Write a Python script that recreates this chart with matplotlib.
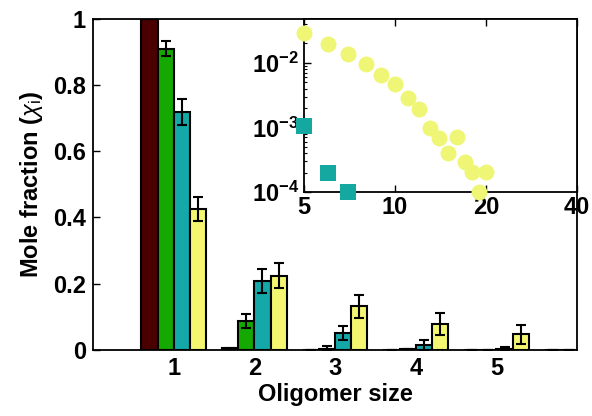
import numpy as np
import matplotlib
matplotlib.use("Agg")
import matplotlib.pyplot as plt

plt.rcParams['font.family'] = ['Liberation Sans', 'DejaVu Sans']
plt.rcParams['mathtext.fontset'] = 'custom'
plt.rcParams['mathtext.rm'] = 'Liberation Sans'
plt.rcParams['mathtext.it'] = 'Liberation Sans:italic'
plt.rcParams['mathtext.bf'] = 'Liberation Sans:bold'

# main panel data: mole fraction per oligomer size, four systems
sizes = [1, 2, 3, 4, 5, 6]
dark_vals = [1.0, 0.005, 0.0, 0.0, 0.0, 0.0]
green_vals = [0.909, 0.088, 0.004, 0.002, 0.0, 0.0]
teal_vals = [0.719, 0.208, 0.052, 0.014, 0.003, 0.0]
yellow_vals = [0.426, 0.224, 0.131, 0.079, 0.047, 0.0]
dark_err = [0.0, 0.002, 0.0, 0.0, 0.0, 0.0]
green_err = [0.023, 0.021, 0.008, 0.0, 0.0, 0.0]
teal_err = [0.040, 0.036, 0.021, 0.015, 0.006, 0.0]
yellow_err = [0.036, 0.037, 0.035, 0.033, 0.029, 0.0]

# inset data (log-log)
inset_yellow_x = [5, 6, 7, 8, 9, 10, 11, 12, 13, 14, 15, 16, 17, 18, 19, 20]
inset_yellow_y = [0.0295, 0.0197, 0.0138, 0.0096, 0.0065, 0.0047, 0.00284, 0.00194,
                  0.00099, 0.000695, 0.000398, 0.00072, 0.000295, 0.000202, 0.0001, 0.000202]
inset_teal_x = [5, 6, 7]
inset_teal_y = [0.00105, 0.0002, 0.0001]

colors = ['#4a0000', '#14a800', '#14a8a8', '#f4f672']
series = [(dark_vals, dark_err), (green_vals, green_err),
          (teal_vals, teal_err), (yellow_vals, yellow_err)]
offsets = [-0.3, -0.1, 0.1, 0.3]
width = 0.2
fs = 17

fig = plt.figure(figsize=(5.92, 4.16), dpi=100)
ax = fig.add_axes([0.157, 0.159, 0.818, 0.796])

x = np.array(sizes)
for (vals, err), off, c in zip(series, offsets, colors):
    ax.bar(x + off, vals, width, color=c, edgecolor='black', linewidth=1.5, zorder=2)
    ax.errorbar(x + off, vals, yerr=err, fmt='none', ecolor='black',
                elinewidth=1.5, capsize=3.5, capthick=1.5, zorder=3)

ax.set_xlim(0, 6)
ax.set_ylim(0, 1)
ax.set_xticks([1, 2, 3, 4, 5])
ax.set_yticks([0, 0.2, 0.4, 0.6, 0.8, 1.0])
ax.set_yticklabels(['0', '0.2', '0.4', '0.6', '0.8', '1'])
ax.tick_params(axis='x', length=0, labelsize=fs, pad=5)
ax.tick_params(axis='y', direction='in', length=5, width=1, labelsize=fs, pad=5)
for lab in ax.get_xticklabels() + ax.get_yticklabels():
    lab.set_fontweight('bold')
for sp in ax.spines.values():
    sp.set_linewidth(1.3)
ax.set_xlabel('Oligomer size', fontsize=fs, fontweight='bold', labelpad=2)
ax.set_ylabel(r'Mole fraction ($\chi_{\rm i}$)', fontsize=fs, fontweight='bold', labelpad=6)

# inset
ins = fig.add_axes([0.5135, 0.5385, 0.4615, 0.416])
ins.set_facecolor('white')
ins.plot(inset_yellow_x, inset_yellow_y, 'o', color='#eff676', markersize=11.5,
         markeredgewidth=0, clip_on=False, zorder=3)
ins.plot(inset_teal_x, inset_teal_y, 's', color='#14a8a0', markersize=11,
         markeredgewidth=0, clip_on=False, zorder=3)
ins.set_xscale('log', base=2)
ins.set_yscale('log')
ins.set_xlim(5, 40)
ins.set_ylim(1e-4, 0.048)
ins.set_xticks([5, 10, 20, 40])
ins.set_xticklabels(['5', '10', '20', '40'])
ins.xaxis.set_minor_locator(matplotlib.ticker.NullLocator())
ins.set_yticks([1e-4, 1e-3, 1e-2])
ins.set_yticklabels([r'$\mathbf{10^{-4}}$', r'$\mathbf{10^{-3}}$', r'$\mathbf{10^{-2}}$'])
ins.tick_params(which='both', direction='in', top=True, labelsize=fs)
ins.tick_params(which='major', length=5, width=1)
ins.tick_params(which='minor', length=2.5, width=0.8)
ins.tick_params(axis='x', pad=3)
for lab in ins.get_xticklabels():
    lab.set_fontweight('bold')
for sp in ins.spines.values():
    sp.set_linewidth(1.3)

fig.savefig('out.png', dpi=100)
